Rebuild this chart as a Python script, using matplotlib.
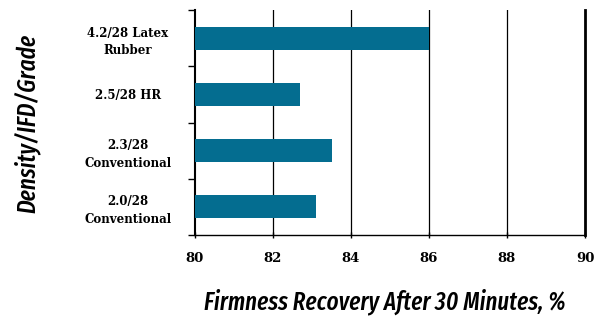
import matplotlib
matplotlib.use("Agg")
import matplotlib.pyplot as plt
from matplotlib.ticker import FixedLocator, NullFormatter

categories = ["4.2/28 Latex\nRubber", "2.5/28 HR", "2.3/28\nConventional", "2.0/28\nConventional"]
values = [86.0, 82.7, 83.5, 83.1]
xticks = [80, 82, 84, 86, 88, 90]

SERIF = ["DejaVu Serif"]
COND = ["Fira Sans Extra Condensed", "Roboto Condensed", "DejaVu Sans"]

fig = plt.figure(figsize=(6.04, 3.16), dpi=100)
ax = fig.add_axes([195/604, 1-235/316, 390/604, 225/316])

n = len(categories)
ypos = list(range(n))
ax.barh(ypos, [v - 80 for v in values], left=80, height=0.41, color="#046d90", zorder=3)
ax.set_xlim(80, 90)
ax.set_ylim(n - 0.5, -0.5)

ax.set_xticks(xticks)
ax.set_xticklabels([str(t) for t in xticks], family=SERIF, fontweight="bold", fontsize=9.5)
ax.tick_params(axis="x", length=4, width=1, direction="inout", pad=10, colors="black")

# y: major ticks at boundaries, labels at centers
ax.yaxis.set_major_locator(FixedLocator([i - 0.5 for i in range(n + 1)]))
ax.yaxis.set_major_formatter(NullFormatter())
ax.yaxis.set_minor_locator(FixedLocator(ypos))
ax.set_yticklabels(categories, minor=True, family=SERIF, fontweight="bold",
                   fontsize=8.5, ha="center", linespacing=1.45)
ax.tick_params(axis="y", which="major", length=5, width=1, direction="out")
ax.tick_params(axis="y", which="minor", length=0, pad=48.5)

for x in xticks[1:-1]:
    ax.axvline(x, color="black", lw=0.9, zorder=1)
ax.spines["top"].set_visible(False)
ax.spines["right"].set_linewidth(2)
ax.spines["left"].set_linewidth(1.5)
ax.spines["bottom"].set_linewidth(1)

fig.text(385/604, 1-302/316, "Firmness Recovery After 30 Minutes, %",
         family=COND, style="italic", fontweight="medium",
         fontsize=18, ha="center", va="center")
fig.text(27/604, 1-123/316, "Density/IFD/Grade",
         family=COND, style="italic", fontweight="medium",
         fontsize=18, ha="center", va="center", rotation=90)

fig.savefig("out.png", dpi=100)
